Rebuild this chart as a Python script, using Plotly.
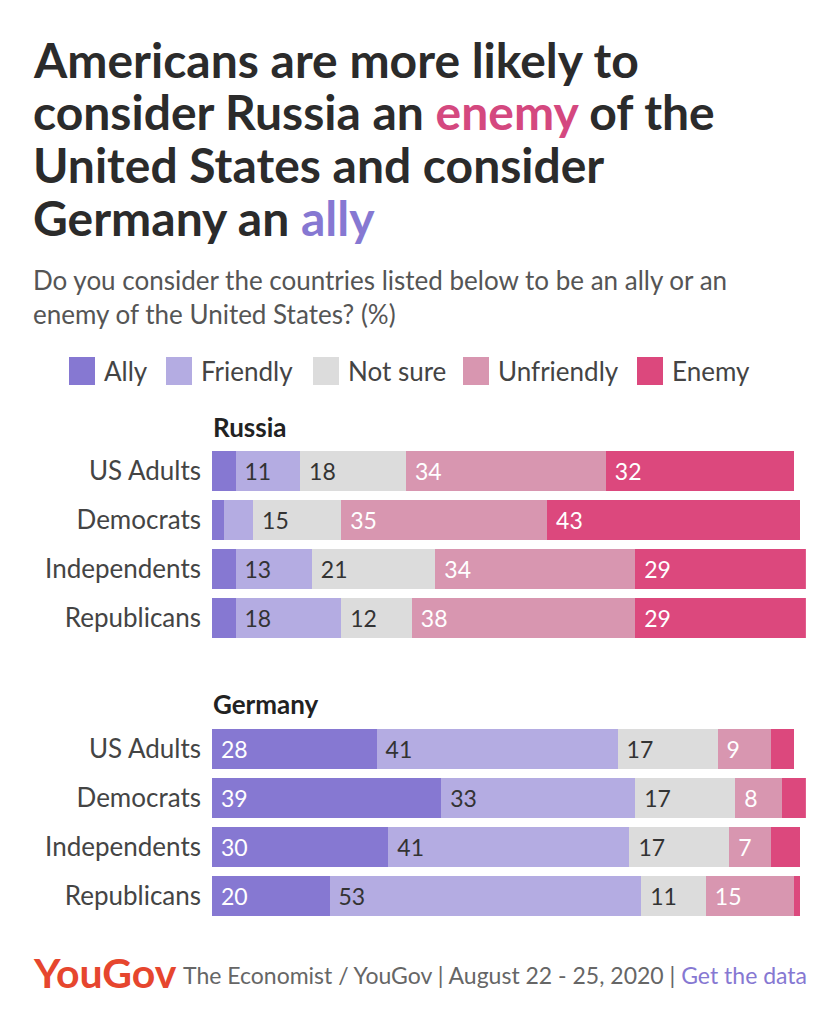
import plotly.graph_objects as go
from plotly.subplots import make_subplots

# --- data ---
groups = ["US Adults", "Democrats", "Independents", "Republicans"]
categories = ["Ally", "Friendly", "Not sure", "Unfriendly", "Enemy"]

russia_ally = [4, 2, 4, 4]
russia_friendly = [11, 5, 13, 18]
russia_not_sure = [18, 15, 21, 12]
russia_unfriendly = [34, 35, 34, 38]
russia_enemy = [32, 43, 29, 29]

germany_ally = [28, 39, 30, 20]
germany_friendly = [41, 33, 41, 53]
germany_not_sure = [17, 17, 17, 11]
germany_unfriendly = [9, 8, 7, 15]
germany_enemy = [4, 4, 5, 1]

title_lines = [
    "Americans are more likely to",
    "consider Russia an <span style='color:#d4487f'>enemy</span> of the",
    "United States and consider",
    "Germany an <span style='color:#8678d2'>ally</span>",
]

# --- style ---
W, H = 840, 1024
OFF = 8  # page body margin, everything below is measured in window pixels
FONT = "Lato"
colors = ["#8678d2", "#b4ace2", "#dcdcdc", "#d896b0", "#dc487d"]
text_colors = ["white", "#333333", "#333333", "white", "white"]
MIN_LABEL = 7  # smaller segments are left unlabelled


def px_x(x):
    return (x - OFF) / W


def px_y(y):
    return 1 - (y - OFF) / H


russia = [russia_ally, russia_friendly, russia_not_sure, russia_unfriendly, russia_enemy]
germany = [germany_ally, germany_friendly, germany_not_sure, germany_unfriendly, germany_enemy]

fig = make_subplots(rows=2, cols=1)

for row, series in [(1, russia), (2, germany)]:
    for cat, vals, col, tcol in zip(categories, series, colors, text_colors):
        fig.add_trace(go.Bar(
            y=groups, x=vals, orientation="h", name=cat,
            marker=dict(color=col, line=dict(width=0)),
            text=["\u00a0" + str(v) if v >= MIN_LABEL else "" for v in vals],
            textposition="inside", insidetextanchor="start",
            constraintext="none",
            textfont=dict(family=FONT, size=23, color=tcol),
            hoverinfo="skip", showlegend=False,
        ), row=row, col=1)

x_dom = [px_x(212), px_x(212 + 101 * 5.88)]
axis_x = dict(range=[0, 101], domain=x_dom, visible=False, fixedrange=True)
axis_y = dict(autorange="reversed", showgrid=False, zeroline=False, showline=False,
              ticks="", ticklabelstandoff=10,
              tickfont=dict(family=FONT, size=26, color="#444444"))

fig.update_layout(
    width=W, height=H,
    margin=dict(l=0, r=0, t=0, b=0),
    paper_bgcolor="white", plot_bgcolor="white",
    barmode="stack", bargap=0.2,
    xaxis=axis_x, xaxis2=axis_x,
    yaxis=dict(axis_y, domain=[px_y(642.5), px_y(446.5)]),
    yaxis2=dict(axis_y, domain=[px_y(920.5), px_y(724.5)]),
    showlegend=False,
)

annotations = []
# title, one annotation per line to keep the tight line spacing
for i, line in enumerate(title_lines):
    annotations.append(dict(
        text=f"<b>{line}</b>",
        x=px_x(31), y=px_y(59 + i * 52.7), xref="paper", yref="paper",
        xanchor="left", yanchor="middle", align="left", showarrow=False,
        font=dict(family=FONT, size=48, color="#2b2b2b"),
    ))
# subtitle
annotations.append(dict(
    text=("Do you consider the countries listed below to be an ally or an<br>"
          "enemy of the United States? (%)"),
    x=px_x(31), y=px_y(262), xref="paper", yref="paper",
    xanchor="left", yanchor="top", align="left", showarrow=False,
    font=dict(family=FONT, size=26, color="#555555"),
))
# panel headers
for label, y in [("Russia", 427), ("Germany", 704)]:
    annotations.append(dict(
        text=f"<b>{label}</b>", x=px_x(211), y=px_y(y), xref="paper", yref="paper",
        xanchor="left", yanchor="middle", showarrow=False,
        font=dict(family=FONT, size=26, color="#222222"),
    ))

# legend: swatches + labels
shapes = []
legend_x = [69, 166, 313, 463, 637]
for cat, col, lx in zip(categories, colors, legend_x):
    shapes.append(dict(type="rect", xref="paper", yref="paper",
                       x0=px_x(lx), x1=px_x(lx + 26), y0=px_y(385), y1=px_y(357),
                       fillcolor=col, line=dict(width=0)))
    annotations.append(dict(
        text=cat, x=px_x(lx + 33), y=px_y(371), xref="paper", yref="paper",
        xanchor="left", yanchor="middle", showarrow=False,
        font=dict(family=FONT, size=26, color="#444444"),
    ))

# footer
annotations.append(dict(
    text="<b>YouGov</b>", x=px_x(31), y=px_y(972), xref="paper", yref="paper",
    xanchor="left", yanchor="middle", showarrow=False,
    font=dict(family=FONT, size=41, color="#e6462e"),
))
annotations.append(dict(
    text="The Economist / YouGov | August 22 - 25, 2020 | "
         "<span style='color:#8678d2'>Get the data</span>",
    x=px_x(809), y=px_y(975), xref="paper", yref="paper",
    xanchor="right", yanchor="middle", showarrow=False,
    font=dict(family=FONT, size=23, color="#666666"),
))

fig.update_layout(annotations=annotations, shapes=shapes)

fig.write_html("out.html")
